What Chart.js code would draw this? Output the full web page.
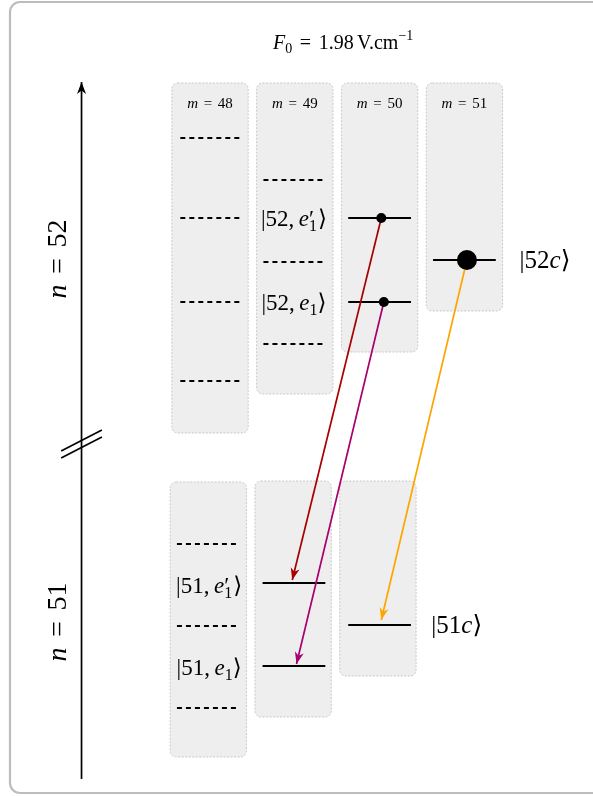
<!DOCTYPE html>
<html>
<head>
<meta charset="utf-8">
<script src="https://cdn.jsdelivr.net/npm/chart.js@4"></script>
<style>
body { margin: 0; background: #fff; }
canvas { display: block; }
</style>
</head>
<body>
<canvas id="myChart" width="593" height="796"></canvas>
<script>
// columns = m values, x is the column index
var mValues = [48, 49, 50, 51];

// boxes: top / bottom of each column (diagram height, 0 = top)
var upperBoxTop = [83, 83, 83, 83];
var upperBoxBottom = [433, 394, 352, 311];
var lowerBoxTop = [482, 481, 481];
var lowerBoxBottom = [757, 717, 676];

// n = 52 manifold
var n52DashedM48 = [138, 218, 302, 381];
var n52DashedM49 = [180, 262, 344];
var n52LevelsM50 = [218, 302];   // |52,e1'>, |52,e1>
var n52LevelsM51 = [260];        // |52c>

// n = 51 manifold
var n51DashedM48 = [544, 626, 708];
var n51LevelsM49 = [583, 666];   // |51,e1'>, |51,e1>
var n51LevelsM50 = [625];        // |51c>

// transitions: start (populated state) -> end
var transStartCol = [2.02, 2.05, 3.03];
var transStartY = [218, 302, 260];
var transEndCol = [0.97, 1.02, 2.02];
var transEndY = [580, 664, 620];

// vertical energy axis
var axisCol = -1.515;
var axisBottom = 779;
var axisTop = 82;
var breakY = [451, 458];

var SERIF = '"Liberation Serif", "DejaVu Serif", serif';
var PX = 84.8; // pixels per column

function level(col, y, dashed) {
    return {
        data: [{x: col - 0.37, y: y}, {x: col + 0.37, y: y}],
        showLine: true,
        borderColor: '#000',
        borderWidth: 2,
        borderDash: dashed ? [5, 4] : [],
        pointRadius: 0,
        order: 3
    };
}

var datasets = [];
n52DashedM48.forEach(function(y) { datasets.push(level(0.02, y, true)); });
n52DashedM49.forEach(function(y) { datasets.push(level(1, y, true)); });
n52LevelsM50.forEach(function(y) { datasets.push(level(2, y, false)); });
n52LevelsM51.forEach(function(y) { datasets.push(level(3, y, false)); });
n51DashedM48.forEach(function(y) { datasets.push(level(-0.02, y, true)); });
n51LevelsM49.forEach(function(y) { datasets.push(level(0.99, y, false)); });
n51LevelsM50.forEach(function(y) { datasets.push(level(2, y, false)); });

var arrowColors = ['#a80000', '#a8006e', '#ffa500'];
transStartCol.forEach(function(c, i) {
    datasets.push({
        data: [{x: c, y: transStartY[i]}, {x: transEndCol[i], y: transEndY[i]}],
        showLine: true,
        borderColor: arrowColors[i],
        borderWidth: 1.7,
        pointRadius: 0,
        arrow: true,
        order: 1
    });
});

// populated states
datasets.push({
    data: transStartCol.map(function(c, i) { return {x: c, y: transStartY[i]}; }),
    pointRadius: [5, 5, 10],
    pointBackgroundColor: '#000',
    pointBorderWidth: 0,
    order: 0
});

// energy axis + break marks
datasets.push({
    data: [{x: axisCol, y: axisBottom}, {x: axisCol, y: axisTop}],
    showLine: true, borderColor: '#000', borderWidth: 1.7, pointRadius: 0, arrow: true, order: 2
});
breakY.forEach(function(y) {
    datasets.push({
        data: [{x: axisCol - 0.24, y: y}, {x: axisCol + 0.24, y: y - 21}],
        showLine: true, borderColor: '#000', borderWidth: 1.7, pointRadius: 0, order: 2
    });
});

// --- math text helper: parts = [text, kind]
function setFont(ctx, kind, size) {
    if (kind === 'i') ctx.font = 'italic ' + size + 'px ' + SERIF;
    else if (kind === 'sub' || kind === 'sup') ctx.font = Math.round(size * 0.7) + 'px ' + SERIF;
    else ctx.font = size + 'px ' + SERIF;
}
function partWidth(ctx, p, size) {
    if (p[1] === 'ps') {
        setFont(ctx, 'r', size);
        var w1 = ctx.measureText('\u2032').width;
        setFont(ctx, 'sub', size);
        return Math.max(w1, ctx.measureText(p[0]).width) + 1;
    }
    if (p[1] === 'rel') {
        setFont(ctx, 'r', size);
        return ctx.measureText(p[0]).width + size * 0.76;
    }
    if (p[1] === 'sp') return size * p[0];
    setFont(ctx, p[1], size);
    return ctx.measureText(p[0]).width;
}
function drawMath(ctx, parts, cx, cy, size) {
    var total = 0;
    parts.forEach(function(p) { total += partWidth(ctx, p, size); });
    var x = cx - total / 2;
    var base = cy + size * 0.33;
    ctx.textAlign = 'left';
    ctx.textBaseline = 'alphabetic';
    ctx.fillStyle = '#000';
    parts.forEach(function(p) {
        var w = partWidth(ctx, p, size);
        if (p[1] === 'ps') {
            setFont(ctx, 'r', size);
            ctx.fillText('\u2032', x, base);
            setFont(ctx, 'sub', size);
            ctx.fillText(p[0], x, base + size * 0.25);
        } else if (p[1] === 'rel') {
            setFont(ctx, 'r', size);
            ctx.fillText(p[0], x + size * 0.38, base);
        } else if (p[1] !== 'sp') {
            setFont(ctx, p[1], size);
            var dy = p[1] === 'sub' ? size * 0.22 : (p[1] === 'sup' ? -size * 0.42 : 0);
            ctx.fillText(p[0], x, base + dy);
        }
        x += w;
    });
}

var RA = '\u27E9';
var stateLabels = [
    {col: 0.99, y: 218, size: 23, parts: [['|52,', 'r'], [0.2, 'sp'], ['e', 'i'], ['1', 'ps'], [RA, 'r']]},
    {col: 0.99, y: 302, size: 23, parts: [['|52,', 'r'], [0.2, 'sp'], ['e', 'i'], ['1', 'sub'], [RA, 'r']]},
    {col: 3.95, y: 260, size: 25, parts: [['|52', 'r'], ['c', 'i'], [RA, 'r']]},
    {col: -0.01, y: 585, size: 23, parts: [['|51,', 'r'], [0.2, 'sp'], ['e', 'i'], ['1', 'ps'], [RA, 'r']]},
    {col: -0.01, y: 667, size: 23, parts: [['|51,', 'r'], [0.2, 'sp'], ['e', 'i'], ['1', 'sub'], [RA, 'r']]},
    {col: 2.91, y: 625, size: 25, parts: [['|51', 'r'], ['c', 'i'], [RA, 'r']]}
];

var diagramPlugin = {
    id: 'diagram',
    beforeDatasetsDraw: function(chart) {
        var ctx = chart.ctx, xs = chart.scales.x, ys = chart.scales.y;
        ctx.save();
        // outer frame
        ctx.strokeStyle = '#bdbdbd';
        ctx.lineWidth = 2.2;
        ctx.beginPath();
        ctx.roundRect(10, 2, 600, 791, 10);
        ctx.stroke();

        function box(col, top, bottom) {
            var x0 = xs.getPixelForValue(col - 0.45), x1 = xs.getPixelForValue(col + 0.45);
            var y0 = ys.getPixelForValue(top), y1 = ys.getPixelForValue(bottom);
            ctx.beginPath();
            ctx.roundRect(x0, y0, x1 - x0, y1 - y0, 6);
            ctx.fillStyle = '#eeeeee';
            ctx.fill();
            ctx.setLineDash([2, 1.5]);
            ctx.strokeStyle = '#c9c9c9';
            ctx.lineWidth = 1;
            ctx.stroke();
            ctx.setLineDash([]);
        }
        upperBoxTop.forEach(function(t, i) { box(i, t, upperBoxBottom[i]); });
        lowerBoxTop.forEach(function(t, i) { box(i - 0.02, t, lowerBoxBottom[i]); });
        ctx.restore();
    },
    afterDatasetsDraw: function(chart) {
        var ctx = chart.ctx, xs = chart.scales.x, ys = chart.scales.y;
        ctx.save();
        // arrow heads
        chart.data.datasets.forEach(function(ds, i) {
            if (!ds.arrow) return;
            var pts = chart.getDatasetMeta(i).data;
            var a = pts[0], b = pts[pts.length - 1];
            var ang = Math.atan2(b.y - a.y, b.x - a.x);
            var L = 12, W = 4.5;
            ctx.save();
            ctx.translate(b.x, b.y);
            ctx.rotate(ang);
            ctx.beginPath();
            ctx.moveTo(0, 0);
            ctx.lineTo(-L, W);
            ctx.lineTo(-L + 3.5, 0);
            ctx.lineTo(-L, -W);
            ctx.closePath();
            ctx.fillStyle = ds.borderColor;
            ctx.fill();
            ctx.restore();
        });

        // title
        drawMath(ctx, [['F', 'i'], ['0', 'sub'], ['=', 'rel'], ['1.98', 'r'], [0.17, 'sp'], ['V.cm', 'r'], ['\u22121', 'sup']],
            xs.getPixelForValue(1.57), ys.getPixelForValue(42), 20);
        // column headers
        mValues.forEach(function(m, i) {
            drawMath(ctx, [['m', 'i'], ['=', 'rel'], [String(m), 'r']], xs.getPixelForValue(i), ys.getPixelForValue(103), 15);
        });
        // state labels
        stateLabels.forEach(function(l) {
            drawMath(ctx, l.parts, xs.getPixelForValue(l.col), ys.getPixelForValue(l.y), l.size);
        });
        // manifold labels
        [[52, 259], [51, 622]].forEach(function(n) {
            ctx.save();
            ctx.translate(xs.getPixelForValue(axisCol - 0.29), ys.getPixelForValue(n[1]));
            ctx.rotate(-Math.PI / 2);
            drawMath(ctx, [['n', 'i'], ['=', 'rel'], [String(n[0]), 'r']], 0, 0, 28);
            ctx.restore();
        });
        ctx.restore();
    }
};

var chart = new Chart(document.getElementById('myChart'), {
    type: 'scatter',
    data: { datasets: datasets },
    options: {
        responsive: false,
        animation: false,
        events: [],
        layout: { padding: 0, autoPadding: false },
        plugins: { legend: { display: false }, tooltip: { enabled: false } },
        scales: {
            x: { type: 'linear', min: -210 / PX, max: (593 - 210) / PX, display: false },
            y: { type: 'linear', min: 0, max: 796, reverse: true, display: false }
        }
    },
    plugins: [diagramPlugin]
});
</script>
</body>
</html>
